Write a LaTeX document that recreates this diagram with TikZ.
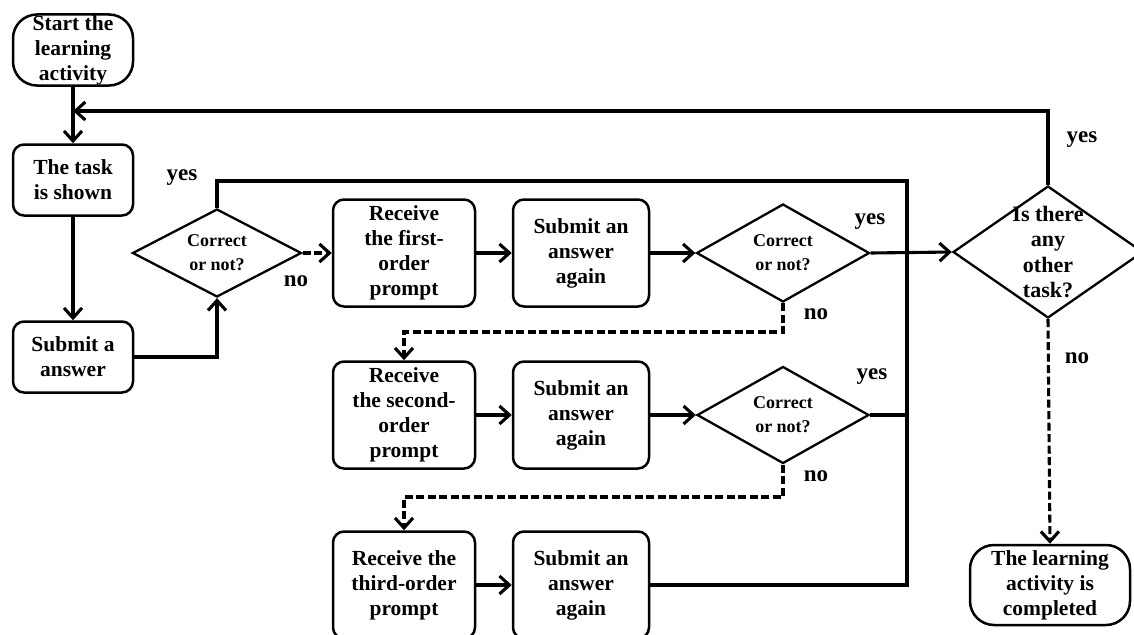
\documentclass[tikz,border=0pt]{standalone}
\usepackage{fontspec}
\setmainfont{Liberation Serif}
\usetikzlibrary{shapes.geometric,arrows.meta}
\begin{document}
\begin{tikzpicture}[x=1pt,y=-1pt,
  box/.style={draw,line width=2.5pt,rounded corners=11pt,align=center,inner sep=0pt,
    font=\bfseries\fontsize{21.5}{25}\selectfont},
  term/.style={box,rounded corners=24pt},
  dec/.style={draw,diamond,line width=2.3pt,inner sep=0pt},
  dtext/.style={font=\bfseries\fontsize{18}{24}\selectfont,align=center},
  btext/.style={font=\bfseries\fontsize{22}{25.5}\selectfont,align=center},
  conn/.style={line width=3.1pt},
  arr/.style={conn,-{Straight Barb[length=10pt,width=18pt]}},
  dsh/.style={conn,dash pattern=on 8pt off 3.5pt},
  darr/.style={dsh,-{Straight Barb[length=10pt,width=18pt]}},
  lab/.style={font=\bfseries\fontsize{23}{26}\selectfont,inner sep=0pt}
]
\useasboundingbox (0,0) rectangle (1134,634);

% nodes
\node[term,minimum width=120pt,minimum height=71pt] (start) at (73,50) {Start the\\learning\\activity};
\node[box,minimum width=120pt,minimum height=71pt] (task) at (73,180) {The task\\is shown};
\node[box,minimum width=120pt,minimum height=71pt] (sub0) at (73,357) {Submit a\\answer};
\node[dec,minimum width=169pt,minimum height=88pt] (d1) at (217,253) {};
\node[dtext] (d1t) at (d1.center) {Correct\\or not?};

\node[box,minimum width=142pt,minimum height=107pt] (r1) at (404,253) {Receive\\the first-\\order\\prompt};
\node[box,minimum width=136pt,minimum height=107pt] (s1) at (581,253) {Submit an\\answer\\again};
\node[dec,minimum width=173pt,minimum height=98pt] (d2) at (783,253) {};
\node[dtext] (d2t) at (d2.center) {Correct\\or not?};

\node[dec,minimum width=190pt,minimum height=132pt] (d3) at (1048,252) {};
\node[btext] (d3t) at (d3.center) {Is there\\any\\other\\task?};

\node[box,minimum width=142pt,minimum height=107pt] (r2) at (404,415) {Receive\\the second-\\order\\prompt};
\node[box,minimum width=136pt,minimum height=107pt] (s2) at (581,415) {Submit an\\answer\\again};
\node[dec,minimum width=172pt,minimum height=97pt] (d4) at (783,415) {};
\node[dtext] (d4t) at (d4.center) {Correct\\or not?};

\node[box,minimum width=142pt,minimum height=107pt] (r3) at (404,585) {Receive the\\third-order\\prompt};
\node[box,minimum width=136pt,minimum height=107pt] (s3) at (581,585) {Submit an\\answer\\again};

\node[term,minimum width=160pt,minimum height=80pt] (end) at (1050,585) {The learning\\activity is\\completed};

% coordinates
\coordinate (jtop) at (907,181);
\coordinate (jbot) at (907,585);
\coordinate (ret) at (1048,111);
\coordinate (k1) at (783,332);
\coordinate (k2) at (783,497);

% connectors
\draw[arr] (start) -- (task);
\draw[arr] (task) -- (sub0);
\draw[arr] (sub0.east) -| (d1.south);
\draw[conn] (d1.north) |- (jtop) -- (jbot) -- (s3.east);
\draw[darr] (d1.east) -- (r1.west);
\draw[arr] (r1) -- (s1);
\draw[arr] (s1) -- (d2.west);
\draw[arr] (d2.east) -- (d3.west);
\draw[darr] (d2.south) -- (k1) -| (r2.north);
\draw[arr] (r2) -- (s2);
\draw[arr] (s2) -- (d4.west);
\draw[conn] (d4.east) -- (d4.east -| jtop);
\draw[darr] (d4.south) -- (k2) -| (r3.north);
\draw[arr] (r3) -- (s3);
\draw[darr] (d3.south) -- (end.north);
\draw[arr] (d3.north) -- (ret) -- (ret -| task.north);

% labels
\node[lab] (y1) at (182,178) {yes};
\node[lab] (n1) at (296,281) {no};
\node[lab] (y2) at (870,222) {yes};
\node[lab] (n2) at (816,314) {no};
\node[lab] (y3) at (1082,140) {yes};
\node[lab] (n3) at (1077,358) {no};
\node[lab] (y4) at (872,377) {yes};
\node[lab] (n4) at (816,476) {no};
\end{tikzpicture}
\end{document}
